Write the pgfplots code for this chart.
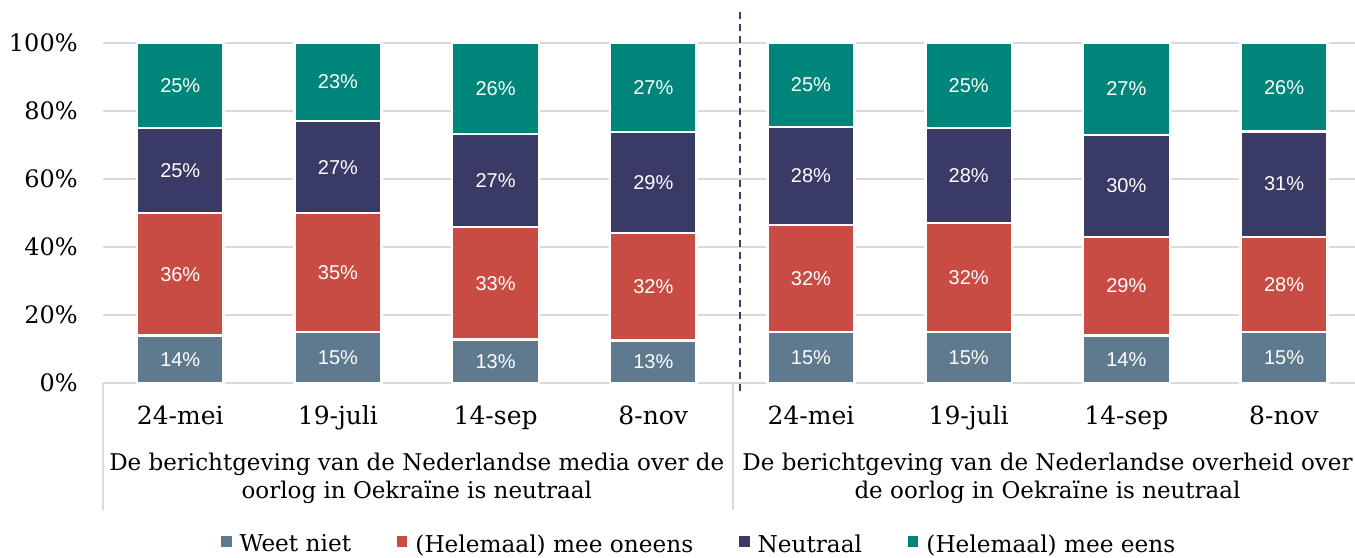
\documentclass[border=0pt]{standalone}
\usepackage{pgfplots}
\pgfplotsset{compat=1.18}
\usepackage{pgfplotstable}
\usepackage{fontspec}
\setmainfont{DejaVu Serif}
\newfontfamily\labfont{Liberation Sans}
\definecolor{cwn}{HTML}{5F7A8E}
\definecolor{con}{HTML}{C94C44}
\definecolor{cne}{HTML}{393A66}
\definecolor{cee}{HTML}{00857A}
\definecolor{cgrid}{HTML}{D9D9D9}
\pgfplotstableread{
x wn wnl on onl ne nel ee eel
0 14 14 36 36 25 25 25 25
1 15 15 35 35 27 27 23 23
2 12.8 13 33 33 27.5 27 26.7 26
3 12.5 13 31.7 32 29.6 29 26.2 27
4 15 15 31.5 32 28.8 28 24.7 25
5 15 15 32 32 28 28 25 25
6 14 14 29 29 30 30 27 27
7 15 15 28 28 31 31 26 26
}\data
\pgfplotsset{mylegend/.style={legend image code/.code={\fill[##1,draw=none] (0pt,-1pt) rectangle (5.2pt,4.2pt);}}}
\begin{document}
\begin{tikzpicture}
\useasboundingbox (0,0) rectangle (677.5pt,278.5pt);
\begin{axis}[
  at={(51.5pt,87pt)}, anchor=south west,
  width=626pt, height=170pt, scale only axis,
  ybar stacked, bar width=0.55,
  xmin=-0.49, xmax=7.45, ymin=0, ymax=100,
  clip=false,
  separate axis lines,
  axis x line*=bottom, axis y line*=left,
  x axis line style={cgrid, line width=1.2pt, -},
  y axis line style={draw=none},
  major tick length=0pt, tick style={draw=none},
  ymajorgrids, grid style={cgrid, line width=1pt},
  ytick={0,20,40,60,80,100},
  yticklabels={0\%,20\%,40\%,60\%,80\%,100\%},
  yticklabel style={anchor=east, inner sep=0pt, xshift=-12.5pt, font=\fontsize{12}{14}\selectfont},
  xtick={0,...,7},
  xticklabels={24-mei,19-juli,14-sep,8-nov,24-mei,19-juli,14-sep,8-nov},
  xticklabel style={anchor=base, inner sep=0pt, yshift=-20.5pt, font=\fontsize{12.5}{14}\selectfont},
  point meta=explicit symbolic,
  nodes near coords={\pgfplotspointmeta\%},
  nodes near coords style={font=\labfont\fontsize{10}{12}\selectfont, text=white},
  every node near coord/.append style={anchor=center},
  legend style={at={(0.477,-0.476)}, anchor=center, draw=none, legend columns=-1,
    font=\fontsize{11.6}{13}\selectfont,
    /tikz/every even column/.append style={column sep=21pt},
    /tikz/every odd column/.append style={column sep=2pt}},
  legend cell align=left,
]
\addplot[fill=cwn, draw=white, line width=1.2pt, mylegend] table[x=x,y=wn,meta=wnl] {\data};
\addlegendentry{Weet niet}
\addplot[fill=con, draw=white, line width=1.2pt, mylegend] table[x=x,y=on,meta=onl] {\data};
\addlegendentry{(Helemaal) mee oneens}
\addplot[fill=cne, draw=white, line width=1.2pt, mylegend] table[x=x,y=ne,meta=nel] {\data};
\addlegendentry{Neutraal}
\addplot[fill=cee, draw=white, line width=1.2pt, mylegend] table[x=x,y=ee,meta=eel] {\data};
\addlegendentry{(Helemaal) mee eens}
\draw[cgrid, line width=1pt] (axis cs:-0.49,0) -- (axis cs:-0.49,-37.4);
\draw[cgrid, line width=1pt] (axis cs:3.505,0) -- (axis cs:3.505,-37.4);
\draw[cne, line width=0.8pt, dash pattern=on 3.5pt off 2.5pt] (axis cs:3.55,109.1) -- (axis cs:3.55,-2.9);
\node[anchor=base, font=\fontsize{11.5}{13}\selectfont] at (axis cs:1.5,-25.6) {De berichtgeving van de Nederlandse media over de};
\node[anchor=base, font=\fontsize{11.5}{13}\selectfont] at (axis cs:1.5,-34.1) {oorlog in Oekraïne is neutraal};
\node[anchor=base, font=\fontsize{11.5}{13}\selectfont] at (axis cs:5.5,-25.6) {De berichtgeving van de Nederlandse overheid over};
\node[anchor=base, font=\fontsize{11.5}{13}\selectfont] at (axis cs:5.5,-34.1) {de oorlog in Oekraïne is neutraal};
\end{axis}
\end{tikzpicture}
\end{document}
